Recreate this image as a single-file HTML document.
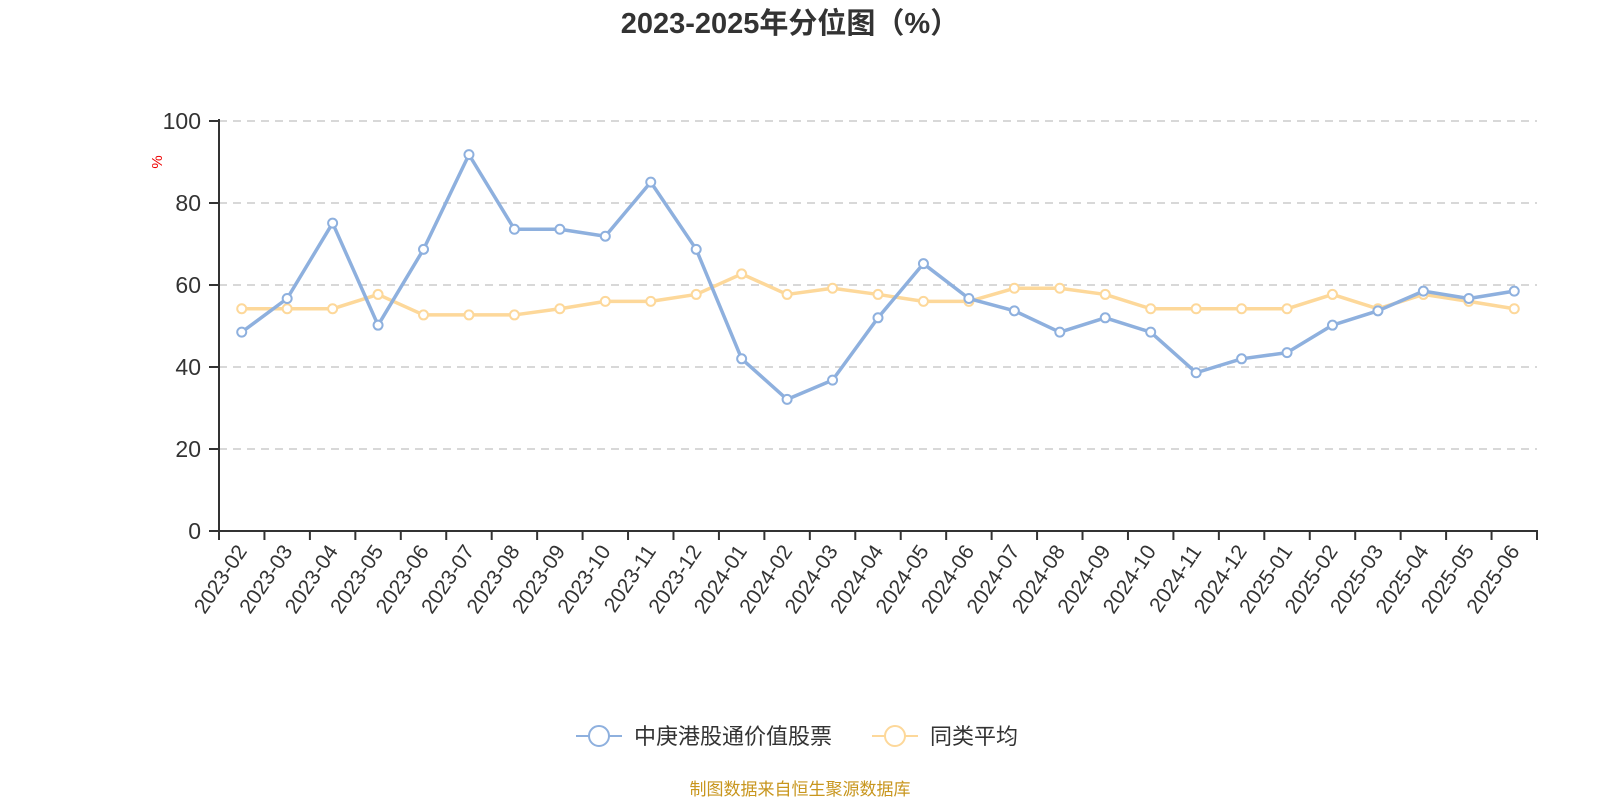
<!DOCTYPE html>
<html><head><meta charset="utf-8"><style>
body{margin:0;background:#fff;}
svg{display:block;font-family:"Liberation Sans","Noto Sans CJK SC",sans-serif;}
</style></head><body>
<svg id="c" width="1600" height="800">
<text x="790" y="33" text-anchor="middle" font-size="29" font-weight="bold" fill="#333">2023-2025年分位图（%）</text>
<text x="0" y="0" transform="translate(162,162) rotate(-90)" text-anchor="middle" font-size="15" fill="#e00">%</text>
<g id="grid"></g><g id="axes"></g><g id="series"></g>
<g>
<g>
<line x1="576" y1="736" x2="622" y2="736" stroke="#8eb0de" stroke-width="2"/>
<circle cx="599" cy="736" r="10" fill="#fff" stroke="#8eb0de" stroke-width="2"/>
<text x="634" y="744" font-size="22" fill="#333">中庚港股通价值股票</text></g>
<g>
<line x1="872" y1="736" x2="918" y2="736" stroke="#fdd89a" stroke-width="2"/>
<circle cx="895" cy="736" r="10" fill="#fff" stroke="#fdd89a" stroke-width="2"/>
<text x="930" y="744" font-size="22" fill="#333">同类平均</text></g>
</g>
<text x="800" y="795" text-anchor="middle" font-size="17" fill="#c8961e">制图数据来自恒生聚源数据库</text>
</svg>
<script>
const categories=["2023-02","2023-03","2023-04","2023-05","2023-06","2023-07","2023-08","2023-09","2023-10","2023-11","2023-12","2024-01","2024-02","2024-03","2024-04","2024-05","2024-06","2024-07","2024-08","2024-09","2024-10","2024-11","2024-12","2025-01","2025-02","2025-03","2025-04","2025-05","2025-06"];
const fundValues=[48.5,56.7,75.1,50.2,68.7,91.8,73.6,73.6,71.9,85.1,68.7,42.0,32.1,36.8,52.0,65.2,56.7,53.7,48.5,52.0,48.5,38.6,42.0,43.5,50.2,53.7,58.5,56.7,58.5];
const avgValues=[54.2,54.2,54.2,57.7,52.7,52.7,52.7,54.2,56.0,56.0,57.7,62.7,57.7,59.2,57.7,56.0,56.0,59.2,59.2,57.7,54.2,54.2,54.2,54.2,57.7,54.2,57.7,56.0,54.2];
const yTicks=[0,20,40,60,80,100];
const NS="http://www.w3.org/2000/svg";
const X0=219,X1=1537,Y0=531,Y1=121;
const bw=(X1-X0)/categories.length;
const xs=i=>X0+bw*(i+0.5);
const ys=v=>Y0-(v/100)*(Y0-Y1);
function mk(tag,attrs,parent){const e=document.createElementNS(NS,tag);for(const k in attrs)e.setAttribute(k,attrs[k]);parent.appendChild(e);return e;}
const grid=document.getElementById('grid'),axes=document.getElementById('axes'),ser=document.getElementById('series');
yTicks.forEach(t=>{
 const y=ys(t);
 if(t>0){const g=mk('line',{x1:X0,x2:X1,y1:y,y2:y,stroke:'#ccc','stroke-width':1.5,'stroke-dasharray':'8,6'},grid);
 
 }
 const tk=mk('line',{x1:X0-10,x2:X0,y1:y,y2:y,stroke:'#333','stroke-width':2},axes);
 
 
 const tx=mk('text',{x:X0-18,y:y+8,'text-anchor':'end','font-size':23,fill:'#333'},axes);
 tx.textContent=t;
 
 
});
const ya=mk('line',{x1:X0,x2:X0,y1:Y1-2,y2:Y0,stroke:'#333','stroke-width':2},axes);


const xa=mk('line',{x1:X0-1,x2:X1+1,y1:Y0,y2:Y0,stroke:'#333','stroke-width':2},axes);


for(let i=0;i<=categories.length;i++){
 const x=X0+bw*i;
 const t=mk('line',{x1:x,x2:x,y1:Y0,y2:Y0+9,stroke:'#333','stroke-width':2},axes);
 
 
}
categories.forEach((c,i)=>{
 const x=xs(i),y=Y0+16;
 const t=mk('text',{x:x,y:y,transform:`rotate(-56 ${x} ${y})`,'text-anchor':'end','font-size':21,fill:'#333',dy:'0.35em'},axes);
 t.textContent=c;
 
 
});
function drawSeries(vals,color,name){
 const g=mk('g',{},ser);
 
 
 const p=mk('polyline',{points:vals.map((v,i)=>xs(i)+','+ys(v)).join(' '),fill:'none',stroke:color,'stroke-width':3.5,'stroke-linejoin':'round'},g);
 
 
 vals.forEach((v,i)=>{
  const c=mk('circle',{cx:xs(i),cy:ys(v),r:4.5,fill:'#fff',stroke:color,'stroke-width':2},g);
  
  
 });
}
drawSeries(avgValues,'#fdd89a','average-series');
drawSeries(fundValues,'#8eb0de','fund-series');
</script>
</body></html>
